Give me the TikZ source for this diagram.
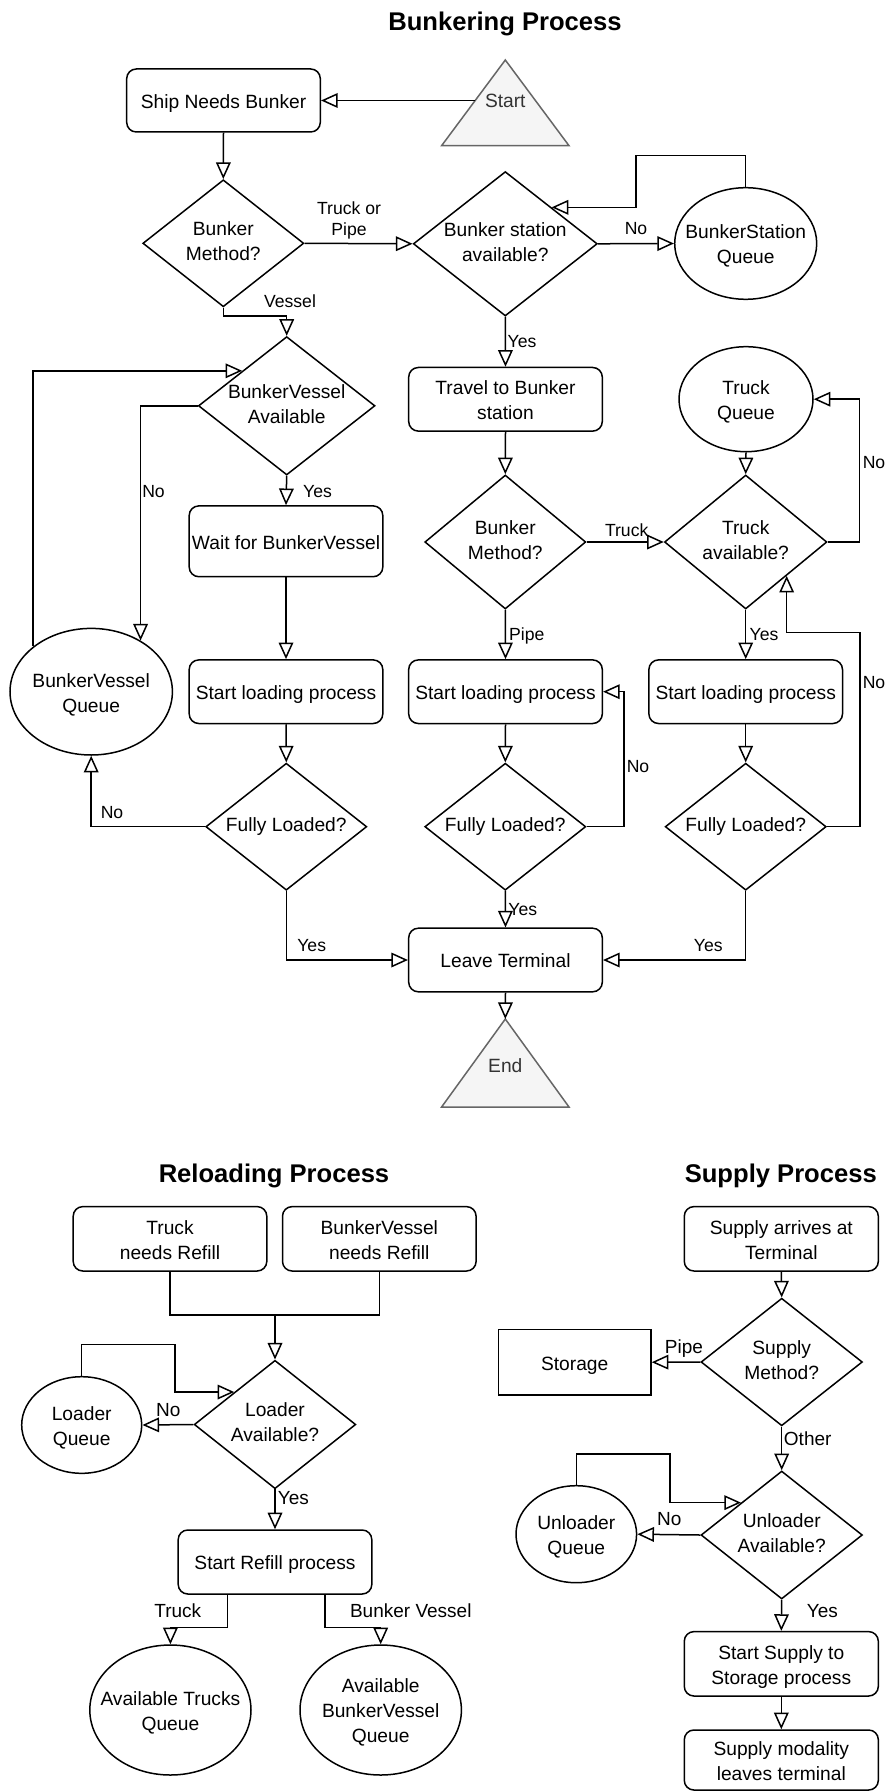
\documentclass[tikz,border=0pt]{standalone}
\usepackage{fontspec}
\setmainfont{Liberation Sans}
\usepackage{tikz}
\usetikzlibrary{arrows.meta, shapes.geometric, calc}

\definecolor{termfill}{HTML}{F5F5F5}
\definecolor{termline}{HTML}{666666}
\definecolor{termtext}{HTML}{333333}

\newcommand{\nodefont}{\fontsize{9.6}{12.5}\selectfont}
\newcommand{\lblfont}{\fontsize{8.8}{10.5}\selectfont}
\newcommand{\lblfontb}{\fontsize{9.5}{11}\selectfont}
\newcommand{\ttlfont}{\fontsize{12.8}{15}\selectfont\bfseries}
% text that does not change the size of its shape
\newcommand{\ntext}[1]{\makebox[0pt]{\raisebox{-3.9pt}{\begin{tabular}{@{}c@{}}#1\end{tabular}}}}
\newcommand{\dtext}[1]{\makebox[0pt]{\raisebox{-2.4pt}{\begin{tabular}{@{}c@{}}#1\end{tabular}}}}

\begin{document}
\begin{tikzpicture}[x=0.5pt, y=-0.5pt, line width=0.75pt,
  arr/.style={-{Triangle[open, length=8.3pt, width=7.3pt]}},
  shp/.style={draw, inner sep=0pt, text height=0pt, text depth=0pt, font=\nodefont},
  rbox/.style={shp, rectangle, rounded corners=4.8pt, minimum width=96.8pt, minimum height=31.8pt},
  sbox/.style={shp, rectangle},
  dia/.style={shp, diamond, minimum width=80.5pt, minimum height=63.5pt},
  queue/.style={shp, ellipse},
  term/.style={draw=termline, fill=termfill},
  termtxt/.style={inner sep=0pt, text height=6.9pt, text depth=0pt, font=\nodefont, text=termtext},
  lbl/.style={inner sep=0pt, text height=6.3pt, text depth=0pt, font=\lblfont},
  lblm/.style={inner sep=0pt, align=center, font=\lblfont},
  lblb/.style={inner sep=0pt, text height=6.8pt, text depth=0pt, font=\lblfontb},
  ttl/.style={inner sep=0pt, text height=9.2pt, text depth=0pt, font=\ttlfont}]
% we fix the page
\fill[white] (0,0) rectangle (888,1792);
\useasboundingbox (0,0) rectangle (888,1792);
%
% the bunkering process
\node[ttl] (ttlbunker) at (505,21.7) {Bunkering Process};
\draw[term] (505.3,60) -- (569,145.7) -- (441.6,145.7) -- cycle;
\node[termtxt] (start) at (505.3,100.5) {Start};
\coordinate (startl) at (475.3,100.5);
\node[rbox, minimum height=31.5pt] (ship) at (223.5,100.5) {\ntext{Ship Needs Bunker}};
\node[dia] (bm1) at (223.3,243.3) {\dtext{Bunker\\Method?}};
\node[dia, minimum width=92pt, minimum height=72.2pt] (bsa) at (505.3,243.8) {\dtext{Bunker station\\available?}};
\node[queue, minimum width=71pt, minimum height=55.8pt] (bsq) at (745.7,243.5) {\ntext{BunkerStation\\Queue}};
\node[dia, minimum width=88.3pt, minimum height=69.2pt] (bva) at (286.7,405.8) {\dtext{BunkerVessel\\Available}};
\node[rbox] (travel) at (505.5,399.3) {\ntext{Travel to Bunker\\station}};
\node[queue, minimum width=67pt, minimum height=52.5pt] (trq) at (746,399.2) {\ntext{Truck\\Queue}};
\node[rbox, minimum height=35.4pt] (wait) at (286,541.3) {\ntext{Wait for BunkerVessel}};
\node[dia, minimum height=67pt] (bm2) at (505.3,542) {\dtext{Bunker\\Method?}};
\node[dia, minimum width=81.2pt, minimum height=67pt] (tra) at (745.7,542) {\dtext{Truck\\available?}};
\node[queue, minimum width=81.2pt, minimum height=63.3pt] (bvq) at (91.2,691.7) {\ntext{BunkerVessel\\Queue}};
\node[rbox] (sl1) at (286,691.7) {\ntext{Start loading process}};
\node[rbox] (sl2) at (505.5,691.7) {\ntext{Start loading process}};
\node[rbox] (sl3) at (745.7,691.7) {\ntext{Start loading process}};
\node[dia] (fl1) at (286.3,826.7) {\dtext{Fully Loaded?}};
\node[dia] (fl2) at (505.3,826.7) {\dtext{Fully Loaded?}};
\node[dia] (fl3) at (745.7,826.7) {\dtext{Fully Loaded?}};
\node[rbox] (leave) at (505.5,960) {\ntext{Leave Terminal}};
\draw[term] (505.3,1019) -- (569,1107) -- (441.6,1107) -- cycle;
\node[termtxt] (end) at (505.3,1066) {End};
\coordinate (endtop) at (505.3,1019);
%
% we draw the connectors of the bunkering process
\draw[arr] (startl) -- (ship.east);
\draw[arr] (ship.south) -- (bm1.north);
\draw[arr] (bm1.east) -- (bsa.west);
\draw[arr] (bsa.east) -- (bsq.west);
\draw[arr] (bsq.north) |- (636,155.7) |- (bsa.north east);
\draw[arr] (bsa.south) -- (travel.north);
\draw[arr] (bm1.south) -- ++(0,8.3) -| (bva.north);
\draw[arr] (bva.south) -- (wait.north);
\draw[arr] (bva.west) -| (bvq.46.7);
\draw[arr] (bvq.142.6) |- (bva.north west);
\draw[arr] (travel.south) -- (bm2.north);
\draw[arr] (bm2.east) -- (tra.west);
\draw[arr] (bm2.south) -- (sl2.north);
\draw[arr] (trq.south) -- (tra.north);
\draw[arr] (tra.east) -- ++(32,0) |- (trq.east);
\draw[arr] (tra.south) -- (sl3.north);
\draw[arr] (wait.south) -- (sl1.north);
\draw[arr] (sl1.south) -- (fl1.north);
\draw[arr] (sl2.south) -- (fl2.north);
\draw[arr] (sl3.south) -- (fl3.north);
\draw[arr] (fl1.west) -| (bvq.south);
\draw[arr] (fl1.south) |- (leave.west);
\draw[arr] (fl2.east) -- ++(37.6,0) |- (sl2.east);
\draw[arr] (fl2.south) -- (leave.north);
\draw[arr] (fl3.east) -- ++(33,0) -- ++(0,-194) -| (tra.south east);
\draw[arr] (fl3.south) |- (leave.east);
\draw[arr] (leave.south) -- (endtop);
% and place the labels
\node[lblm] (bm1tp) at (349,220.5) {Truck or\\Pipe};
\node[lbl] (bsano) at (636,228.7) {No};
\node[lbl] (bm1ves) at (290,301) {Vessel};
\node[lbl] (bsayes) at (522,341.7) {Yes};
\node[lbl] (bvayes) at (317.5,490.7) {Yes};
\node[lbl] (bvano) at (153.5,490.7) {No};
\node[lbl] (bm2tr) at (626.7,530) {Truck};
\node[lbl] (trano) at (874,461.7) {No};
\node[lbl] (bm2pi) at (526.8,634) {Pipe};
\node[lbl] (trayes) at (764,634) {Yes};
\node[lbl] (fl2no) at (638,765.7) {No};
\node[lbl] (fl1no) at (112,812) {No};
\node[lbl] (fl2yes) at (522.8,909) {Yes};
\node[lbl] (fl1yes) at (311.7,945) {Yes};
\node[lbl] (fl3yes) at (708.3,945) {Yes};
\node[lbl] (fl3no) at (874,681.7) {No};
%
% the reloading process
\node[ttl] (ttlreload) at (274,1173.3) {Reloading Process};
\node[rbox, minimum height=32.2pt] (trn) at (170,1238.8) {\ntext{Truck\\needs Refill}};
\node[rbox, minimum height=32.2pt] (bvn) at (379.3,1238.8) {\ntext{BunkerVessel\\needs Refill}};
\node[dia, minimum width=80.8pt, minimum height=64.2pt] (lda) at (275,1424.5) {\dtext{Loader\\Available?}};
\node[queue, minimum width=60pt, minimum height=48.3pt] (ldq) at (81.7,1425) {\ntext{Loader\\Queue}};
\node[rbox, minimum height=32pt] (refill) at (275,1562) {\ntext{Start Refill process}};
\node[queue, minimum width=80.6pt, minimum height=65pt] (atq) at (170.4,1710) {\ntext{Available Trucks\\Queue}};
\node[queue, minimum width=80.7pt, minimum height=65pt] (abq) at (380.7,1710) {\ntext{Available\\BunkerVessel\\Queue}};
\coordinate (merge) at (275,1315);
\draw (trn.south) |- (merge);
\draw (bvn.south) |- (merge);
\draw[arr] (merge) -- (lda.north);
\draw[arr] (lda.west) -- (ldq.east);
\draw[arr] (ldq.north) |- (175,1344.3) |- (lda.north west);
\draw[arr] (lda.south) -- (refill.north);
\draw[arr] ($(refill.south)+(-47.7,0)$) -- ++(0,32.7) -| (atq.north);
\draw[arr] ($(refill.south)+(50,0)$) -- ++(0,32.7) -| (abq.north);
\node[lblb] (ldano) at (168.3,1410) {No};
\node[lblb] (ldayes) at (293.3,1497.7) {Yes};
\node[lblb] (reftr) at (177.8,1610.7) {Truck};
\node[lblb] (refbv) at (410.8,1610.7) {Bunker Vessel};
%
% the supply process
\node[ttl] (ttlsupply) at (780.8,1173.3) {Supply Process};
\node[rbox, minimum width=97pt, minimum height=32.2pt] (sat) at (781.3,1238.8) {\ntext{Supply arrives at\\Terminal}};
\node[dia, minimum width=80.7pt, minimum height=63.8pt] (smd) at (781.7,1362) {\dtext{Supply\\Method?}};
\node[sbox, minimum width=76.3pt, minimum height=32.8pt] (sto) at (574.7,1362.2) {\ntext{Storage}};
\node[dia, minimum width=80.7pt, minimum height=64pt] (ula) at (781.7,1535) {\dtext{Unloader\\Available?}};
\node[queue, minimum width=60.3pt, minimum height=48.5pt] (ulq) at (576.3,1534.2) {\ntext{Unloader\\Queue}};
\node[rbox, minimum width=97pt, minimum height=32.2pt] (sss) at (781.3,1663.8) {\ntext{Start Supply to\\Storage process}};
\node[rbox, minimum width=97pt, minimum height=30pt] (sml) at (781.3,1760) {\ntext{Supply modality\\leaves terminal}};
\draw[arr] (sat.south) -- (smd.north);
\draw[arr] (smd.west) -- (sto.east);
\draw[arr] (smd.south) -- (ula.north);
\draw[arr] (ula.west) -- (ulq.east);
\draw[arr] (ulq.north) |- (670,1454) |- (ula.north west);
\draw[arr] (ula.south) -- (sss.north);
\draw[arr] (sss.south) -- (sml.north);
\node[lblb] (smdpi) at (684,1346.7) {Pipe};
\node[lblb] (smdot) at (807.7,1439) {Other};
\node[lblb] (ulano) at (669.3,1518.3) {No};
\node[lblb] (ulayes) at (822.4,1610.7) {Yes};
\end{tikzpicture}
\end{document}
